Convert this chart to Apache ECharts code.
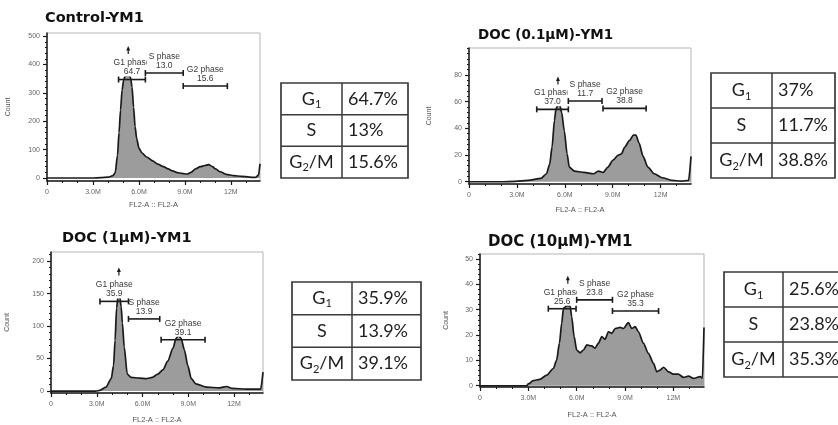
<!DOCTYPE html>
<html><head><meta charset="utf-8">
<script src="https://cdn.jsdelivr.net/npm/echarts@6/dist/echarts.min.js"></script>
<style>html,body{margin:0;padding:0;background:#fff}#c{width:838px;height:425px}</style>
</head><body><div id="c"></div>
<script>
// ---------- data ----------
const panelTitles = ['Control-YM1', 'DOC (0.1μM)-YM1', 'DOC (1μM)-YM1', 'DOC (10μM)-YM1'];
const xTickValues = [0, 3, 6, 9, 12];
const xTickLabels = ['0', '3.0M', '6.0M', '9.0M', '12M'];
const xMinorTicks = [0,1,2,3,4,5,6,7,8,9,10,11,12,13];
const phaseNames = ['G1 phase', 'S phase', 'G2 phase'];
const tablePhases = ['G1', 'S', 'G2/M'];

// Control-YM1
const controlHist = [[0,0],[1,0],[2,0],[3,0],[3.5,1],[4.0,3],[4.3,8],[4.45,18],[4.6,80],[4.7,160],[4.8,240],[4.9,310],[5.0,345],[5.1,360],[5.3,362],[5.45,355],[5.55,320],[5.65,250],[5.75,180],[5.85,140],[6.0,105],[6.2,88],[6.5,74],[6.9,60],[7.2,50],[7.6,40],[7.9,32],[8.2,25],[8.5,19],[8.8,16],[9.15,14],[9.4,20],[9.7,32],[10.0,40],[10.3,44],[10.55,47],[10.8,40],[11.0,32],[11.3,22],[11.7,13],[12.2,8],[12.7,6],[13.2,3],[13.6,2],[13.8,10],[13.9,50]];
const controlGates = [[4.67,6.42,347],[6.42,8.89,370],[8.89,11.77,324]];
const controlGatePct = ['64.7', '13.0', '15.6'];
const controlPeak = [5.3, 451];
const controlYTicks = [0, 100, 200, 300, 400, 500];
const controlTable = ['64.7%', '13%', '15.6%'];

// DOC (0.1μM)-YM1
const doc01Hist = [[0,0],[1,0],[2,0],[2.9,0.3],[3.7,1],[4.5,2.5],[4.85,6],[5.05,13],[5.2,26],[5.35,46],[5.45,55],[5.6,58],[5.7,57],[5.8,52],[5.97,38],[6.14,21],[6.28,11],[6.6,8],[7.2,7],[7.8,6],[8.1,8],[8.4,7],[8.7,11],[9.0,16],[9.35,20],[9.55,21],[9.75,26],[10.05,31],[10.3,35],[10.45,35],[10.65,29],[10.9,19],[11.2,11],[11.6,6],[12.1,3],[12.7,1],[13.3,0.5],[13.75,1],[13.9,19]];
const doc01Gates = [[4.24,6.22,54.3],[6.22,8.33,60.5],[8.39,11.09,55]];
const doc01GatePct = ['37.0', '11.7', '38.8'];
const doc01Peak = [5.57, 76];
const doc01YTicks = [0, 20, 40, 60, 80];
const doc01Table = ['37%', '11.7%', '38.8%'];

// DOC (1μM)-YM1
const doc1Hist = [[0,0],[1,0],[2,0],[2.95,0],[3.2,1],[3.6,6],[3.95,19],[4.1,39],[4.2,78],[4.3,128],[4.4,146],[4.5,147],[4.6,130],[4.68,105],[4.8,68],[5.0,26],[5.25,21],[5.8,20],[6.25,19],[6.65,21],[7.0,26],[7.35,33],[7.65,46],[8.0,66],[8.2,81],[8.36,86],[8.53,81],[8.75,63],[8.97,39],[9.2,19],[9.5,11],[10.2,6],[11.05,5],[11.5,7],[11.9,4],[12.8,3],[13.75,3],[13.9,29]];
const doc1Gates = [[3.21,5.08,138],[5.08,7.13,111],[7.22,10.1,79]];
const doc1GatePct = ['35.9', '13.9', '39.1'];
const doc1Peak = [4.45, 184];
const doc1YTicks = [0, 50, 100, 150, 200];
const doc1Table = ['35.9%', '13.9%', '39.1%'];

// DOC (10μM)-YM1
const doc10Hist = [[0,0],[1,0],[2,0],[2.9,0],[3.0,0.7],[3.3,2],[3.7,2.5],[4.15,4.2],[4.55,6.8],[4.75,10],[4.93,16.8],[5.07,24.7],[5.18,30.6],[5.38,31.5],[5.59,31.5],[5.69,27.3],[5.84,19.4],[6.0,14.1],[6.21,13],[6.42,14.1],[6.63,16.1],[6.94,15.7],[7.14,14.8],[7.35,16.8],[7.56,19.4],[7.76,18.3],[7.97,21.3],[8.18,20.7],[8.39,22.6],[8.7,23],[8.9,22.6],[9.21,24.9],[9.42,22.6],[9.63,23.3],[9.83,21.3],[10.14,16.8],[10.45,12.8],[10.77,8.8],[10.97,5.5],[11.18,6.2],[11.39,7.3],[11.7,5.5],[12.0,4.6],[12.3,4.6],[12.63,3.3],[12.94,3.8],[13.25,2.9],[13.66,3.6],[13.8,3],[13.9,23]];
const doc10Gates = [[4.24,5.96,30.4],[6.0,8.22,33.9],[8.22,11.08,29.5]];
const doc10GatePct = ['25.6', '23.8', '35.3'];
const doc10Peak = [5.45, 41.8];
const doc10YTicks = [0, 10, 20, 30, 40, 50];
const doc10Table = ['25.6%', '23.8%', '35.3%'];

// ---------- layout (pixels / styles) ----------
const layout = [
  {titleX:45, titleY:10.5, titleSize:14.5, grid:{left:47, top:33, width:213, height:148}, yMin:-10.6, yMax:511, nameGapY:35, nameGapX:20, table:{x:281, y:83, w:127, h:95, c:61}},
  {titleX:478, titleY:28, titleSize:13.5, grid:{left:469, top:48, width:222, height:136}, yMin:-1.7, yMax:100.3, nameGapY:36, nameGapX:22, table:{x:711, y:73, w:124, h:105, c:61}},
  {titleX:62, titleY:230.5, titleSize:14.5, grid:{left:51, top:252, width:212, height:146}, yMin:-3, yMax:214, nameGapY:40, nameGapX:23, table:{x:292, y:282, w:129, h:98, c:60}},
  {titleX:488, titleY:235, titleSize:15, grid:{left:480, top:254, width:224, height:133}, yMin:-0.5, yMax:52, nameGapY:30, nameGapX:24, table:{x:724, y:272, w:127, h:105, c:59}}
];

const panels = [
  {title:panelTitles[0], hist:controlHist, gates:controlGates, pct:controlGatePct, peak:controlPeak, yTicks:controlYTicks, table:controlTable},
  {title:panelTitles[1], hist:doc01Hist, gates:doc01Gates, pct:doc01GatePct, peak:doc01Peak, yTicks:doc01YTicks, table:doc01Table},
  {title:panelTitles[2], hist:doc1Hist, gates:doc1Gates, pct:doc1GatePct, peak:doc1Peak, yTicks:doc1YTicks, table:doc1Table},
  {title:panelTitles[3], hist:doc10Hist, gates:doc10Gates, pct:doc10GatePct, peak:doc10Peak, yTicks:doc10YTicks, table:doc10Table}
];

const INK = '#1a1a1a';
const AXIS_FONT = 'Liberation Sans';

function minorOf(ticks, yMax) {
  const step = (ticks[1] - ticks[0]) / 5;
  const out = [];
  for (let v = 0; v <= yMax + 1e-9; v += step) out.push(+v.toFixed(4));
  return out;
}

const grids = [], xAxes = [], yAxes = [], series = [], titles = [], graphics = [];

panels.forEach((p, i) => {
  const L = layout[i];
  titles.push({
    text: p.title, left: L.titleX, top: L.titleY, padding: 0,
    textStyle: {fontFamily: 'DejaVu Sans', fontWeight: 'bold', fontSize: L.titleSize, color: '#111'}
  });
  grids.push(Object.assign({show: true, borderColor: '#b5b5b5', borderWidth: 1, backgroundColor: 'rgba(0,0,0,0)'}, L.grid));

  xAxes.push({
    type: 'value', gridIndex: i, min: 0, max: 13.9, position: 'bottom',
    axisLine: {show: true, onZero: false, lineStyle: {color: INK, width: 1.5}},
    axisTick: {show: true, customValues: xTickValues, length: 4, lineStyle: {color: INK, width: 1.2}},
    axisLabel: {customValues: xTickValues, formatter: v => xTickLabels[xTickValues.indexOf(v)], fontSize: 7, fontFamily: AXIS_FONT, color: '#666', margin: 8},
    splitLine: {show: false},
    name: 'FL2-A :: FL2-A', nameLocation: 'middle', nameGap: L.nameGapX,
    nameTextStyle: {fontSize: 7.5, fontFamily: AXIS_FONT, color: '#555'}
  });
  xAxes.push({
    type: 'value', gridIndex: i, min: 0, max: 13.9, position: 'bottom',
    axisLine: {show: false, onZero: false},
    axisTick: {show: true, customValues: xMinorTicks, length: 2, lineStyle: {color: INK, width: 1}},
    axisLabel: {show: false}, splitLine: {show: false}
  });
  yAxes.push({
    type: 'value', gridIndex: i, min: L.yMin, max: L.yMax, position: 'left',
    axisLine: {show: true, onZero: false, lineStyle: {color: INK, width: 1.5}},
    axisTick: {show: true, customValues: p.yTicks, length: 4, lineStyle: {color: INK, width: 1.2}},
    axisLabel: {customValues: p.yTicks, fontSize: 7, fontFamily: AXIS_FONT, color: '#666', margin: 7},
    splitLine: {show: false},
    name: 'Count', nameLocation: 'middle', nameRotate: 90, nameGap: L.nameGapY,
    nameTextStyle: {fontSize: 7, fontFamily: AXIS_FONT, color: '#555'}
  });
  yAxes.push({
    type: 'value', gridIndex: i, min: L.yMin, max: L.yMax, position: 'left',
    axisLine: {show: false, onZero: false},
    axisTick: {show: true, customValues: minorOf(p.yTicks, L.yMax), length: 2, lineStyle: {color: INK, width: 1}},
    axisLabel: {show: false}, splitLine: {show: false}
  });

  const xi = 2 * i, yi = 2 * i;

  // histogram
  series.push({
    type: 'line', xAxisIndex: xi, yAxisIndex: yi, data: p.hist,
    showSymbol: false, smooth: 0.25, smoothMonotone: 'x', silent: true, z: 2,
    lineStyle: {color: INK, width: 1.7},
    areaStyle: {color: '#9c9c9c', opacity: 1}
  });

  // gate labels (G1, G2, then S on top)
  const order = [0, 2, 1];
  series.push({
    type: 'custom', coordinateSystem: 'cartesian2d', xAxisIndex: xi, yAxisIndex: yi, silent: true, z: 3, clip: false,
    data: order.map(k => [(p.gates[k][0] + p.gates[k][1]) / 2, p.gates[k][2], k]),
    renderItem: (params, api) => {
      const c = api.coord([api.value(0), api.value(1)]);
      const k = api.value(2);
      return {
        type: 'text', x: c[0], y: c[1] - 3,
        style: {
          text: phaseNames[k] + '\n' + p.pct[k],
          fill: '#3a3a3a', fontSize: 8.5, fontFamily: AXIS_FONT, lineHeight: 9,
          align: 'center', verticalAlign: 'bottom',
          backgroundColor: '#fff', padding: [0, 2, 0, 2]
        }
      };
    }
  });

  // gate bars
  series.push({
    type: 'custom', coordinateSystem: 'cartesian2d', xAxisIndex: xi, yAxisIndex: yi, silent: true, z: 4, clip: false,
    data: p.gates,
    renderItem: (params, api) => {
      const a = api.coord([api.value(0), api.value(2)]);
      const b = api.coord([api.value(1), api.value(2)]);
      const st = {stroke: INK, lineWidth: 1.6};
      return {type: 'group', children: [
        {type: 'line', shape: {x1: a[0], y1: a[1], x2: b[0], y2: b[1]}, style: st},
        {type: 'line', shape: {x1: a[0], y1: a[1] - 3, x2: a[0], y2: a[1] + 3}, style: st},
        {type: 'line', shape: {x1: b[0], y1: b[1] - 3, x2: b[0], y2: b[1] + 3}, style: st}
      ]};
    }
  });

  // peak arrow
  series.push({
    type: 'custom', coordinateSystem: 'cartesian2d', xAxisIndex: xi, yAxisIndex: yi, silent: true, z: 5, clip: false,
    data: [p.peak],
    renderItem: (params, api) => {
      const c = api.coord([api.value(0), api.value(1)]);
      return {type: 'group', children: [
        {type: 'polygon', shape: {points: [[c[0], c[1] - 4], [c[0] - 2, c[1] + 0.5], [c[0] + 2, c[1] + 0.5]]}, style: {fill: INK}},
        {type: 'line', shape: {x1: c[0], y1: c[1], x2: c[0], y2: c[1] + 4}, style: {stroke: INK, lineWidth: 1.2}}
      ]};
    }
  });

  // table
  const T = L.table;
  const rh = T.h / 3;
  const g = [];
  g.push({type: 'rect', shape: {x: T.x, y: T.y, width: T.w, height: T.h}, style: {fill: '#fff', stroke: '#3a3a3a', lineWidth: 1.7}});
  g.push({type: 'line', shape: {x1: T.x + T.c, y1: T.y, x2: T.x + T.c, y2: T.y + T.h}, style: {stroke: '#3a3a3a', lineWidth: 1.5}});
  for (let r = 1; r < 3; r++) {
    g.push({type: 'line', shape: {x1: T.x, y1: T.y + r * rh, x2: T.x + T.w, y2: T.y + r * rh}, style: {stroke: '#3a3a3a', lineWidth: 1.5}});
  }
  tablePhases.forEach((ph, r) => {
    const m = ph.match(/^G(\d)(.*)$/);
    const rich = m ? '{m|G}{s|' + m[1] + '}' + (m[2] ? '{m|' + m[2] + '}' : '') : '{m|' + ph + '}';
    const cy = T.y + rh * (r + 0.5);
    g.push({type: 'text', x: T.x + T.c / 2, y: cy, style: {
      text: rich, align: 'center', verticalAlign: 'middle',
      rich: {
        m: {fontSize: 18, fontFamily: 'Lato', fill: '#1e1e1e', lineHeight: 22, verticalAlign: 'middle'},
        s: {fontSize: 11, fontFamily: 'Lato', fill: '#1e1e1e', lineHeight: 22, verticalAlign: 'bottom', padding: [0, 0, 0, 0]}
      }
    }});
    g.push({type: 'text', x: T.x + T.c + 6, y: cy, style: {
      text: p.table[r], align: 'left', verticalAlign: 'middle',
      fontSize: 18, fontFamily: 'Lato', fill: '#1e1e1e'
    }});
  });
  graphics.push(...g);
});

const chart = echarts.init(document.getElementById('c'), null, {renderer: 'canvas', width: 838, height: 425});
chart.setOption({
  backgroundColor: '#fff',
  animation: false,
  title: titles,
  grid: grids,
  xAxis: xAxes,
  yAxis: yAxes,
  series: series,
  graphic: {elements: graphics}
});
</script></body></html>
